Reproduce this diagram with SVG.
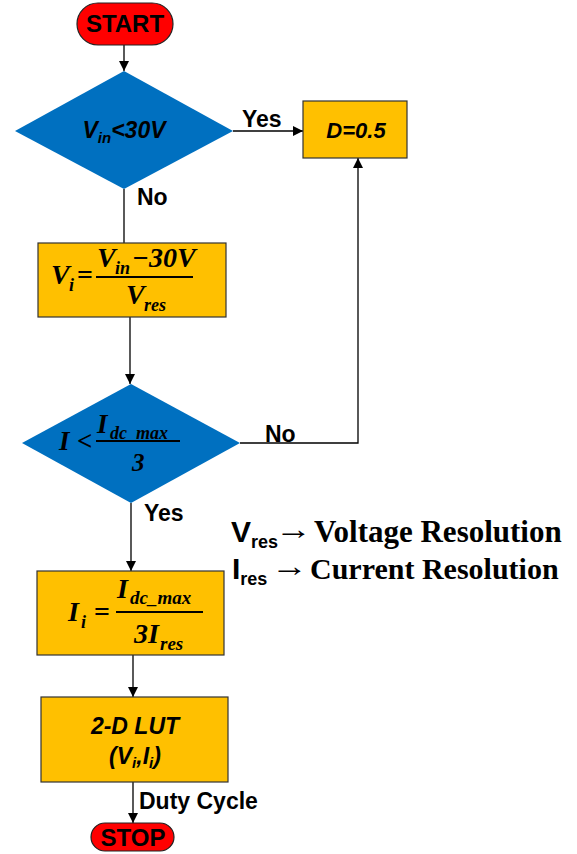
<svg xmlns="http://www.w3.org/2000/svg" width="577" height="854" viewBox="0 0 577 854">
<defs>
<marker id="ah" viewBox="0 0 10 10" refX="10" refY="5" markerWidth="10" markerHeight="10" markerUnits="userSpaceOnUse" orient="auto">
<path d="M0,0 L10,5 L0,10 z" fill="#000"/>
</marker>
<style>
.term{fill:#FF0000;stroke:#222;stroke-width:1.2}
.dec{fill:#0070C0;stroke:none}
.proc{fill:#FFC000;stroke:#333;stroke-width:1.2}
.conn{fill:none;stroke:#000;stroke-width:1.3}
.lbl{font-family:"Liberation Sans",Arial,sans-serif;font-weight:bold;font-size:23px;fill:#000}
.sans{font-family:"Liberation Sans",Arial,sans-serif;font-weight:bold;fill:#000}
.sansi{font-family:"Liberation Sans",Arial,sans-serif;font-weight:bold;font-style:italic;fill:#000}
.math{font-family:"Liberation Serif","Times New Roman",serif;font-weight:bold;font-style:italic;fill:#000}
.serif{font-family:"Liberation Serif","Times New Roman",serif;font-weight:bold;fill:#000}
.arrow{font-family:"Liberation Serif","Times New Roman",serif;fill:#000}
.bar{stroke:#000;stroke-width:2}
</style>
</defs>
<rect width="577" height="854" fill="#fff"/>

<g id="connectors">
<line class="conn" x1="124" y1="45" x2="124" y2="71" marker-end="url(#ah)"/>
<line class="conn" x1="233" y1="131" x2="303" y2="131" marker-end="url(#ah)"/>
<line class="conn" x1="124" y1="189" x2="124" y2="243"/>
<line class="conn" x1="130" y1="317" x2="130" y2="384" marker-end="url(#ah)"/>
<polyline class="conn" points="240,443 358,443 358,158" marker-end="url(#ah)"/>
<line class="conn" x1="131" y1="503" x2="131" y2="571" marker-end="url(#ah)"/>
<line class="conn" x1="133" y1="655" x2="133" y2="697" marker-end="url(#ah)"/>
<line class="conn" x1="133" y1="782" x2="133" y2="823" marker-end="url(#ah)"/>
<text class="lbl" x="242" y="127">Yes</text>
<text class="lbl" x="137" y="205">No</text>
<text class="lbl" x="265" y="442">No</text>
<text class="lbl" x="144" y="521">Yes</text>
<text class="lbl" x="139" y="809">Duty Cycle</text>
</g>

<g id="start">
<rect class="term" x="77" y="3" width="96" height="42" rx="21"/>
<text class="sans" x="125" y="32" font-size="24" text-anchor="middle">START</text>
</g>

<g id="dec1">
<polygon class="dec" points="124,71 233,131 124,189 15,131"/>
<text class="sansi" x="124" y="138" font-size="23" text-anchor="middle">V<tspan font-size="15" dy="5">in</tspan><tspan dy="-5">&lt;30V</tspan></text>
</g>

<g id="d05">
<rect class="proc" x="303" y="101" width="104" height="57"/>
<text class="sansi" x="356" y="138" font-size="22" text-anchor="middle">D=0.5</text>
</g>

<g id="vi">
<rect class="proc" x="38" y="243" width="188" height="74"/>
<text class="math" x="51" y="284" font-size="28">V</text>
<text class="math" x="69" y="291" font-size="18">i</text>
<text class="serif" x="77" y="284" font-size="28">=</text>
<text class="math" x="97" y="267" font-size="28">V</text>
<text class="math" x="115" y="274" font-size="18">in</text>
<text class="math" x="132" y="267" font-size="28">−30V</text>
<line class="bar" x1="96" y1="277" x2="193" y2="277"/>
<text class="math" x="126" y="304" font-size="28">V</text>
<text class="math" x="144" y="311" font-size="18">res</text>
</g>

<g id="dec2">
<polygon class="dec" points="131,384 240,443 131,503 22,443"/>
<text class="math" x="59" y="450" font-size="27">I</text>
<text class="serif" x="77" y="450" font-size="27">&lt;</text>
<text class="math" x="97" y="433" font-size="27">I</text>
<text class="math" x="110" y="439" font-size="18">dc_max</text>
<line class="bar" x1="96" y1="441" x2="180" y2="441"/>
<text class="math" x="132" y="471" font-size="25">3</text>
</g>

<g id="ii">
<rect class="proc" x="37" y="571" width="187" height="84"/>
<text class="math" x="68" y="621" font-size="28">I</text>
<text class="math" x="81" y="628" font-size="18">i</text>
<text class="serif" x="94" y="621" font-size="28">=</text>
<text class="math" x="117" y="598" font-size="28">I</text>
<text class="math" x="130" y="604" font-size="19">dc_max</text>
<line class="bar" x1="116" y1="612" x2="203" y2="612"/>
<text class="math" x="134" y="643" font-size="28">3I</text>
<text class="math" x="160" y="650" font-size="19">res</text>
</g>

<g id="lut">
<rect class="proc" x="41" y="697" width="187" height="85"/>
<text class="sansi" x="135" y="734" font-size="23" text-anchor="middle">2-D LUT</text>
<text class="sansi" x="135" y="764" font-size="23" text-anchor="middle">(V<tspan font-size="15" dy="4">i</tspan><tspan dy="-4">,I</tspan><tspan font-size="15" dy="4">i</tspan><tspan dy="-4">)</tspan></text>
</g>

<g id="stop">
<rect class="term" x="91" y="823" width="83" height="28" rx="14"/>
<text class="sans" x="133" y="846" font-size="24" text-anchor="middle">STOP</text>
</g>

<g id="legend">
<text class="sans" x="231" y="542" font-size="30">V<tspan font-size="18" dy="6">res</tspan></text>
<text class="arrow" x="275" y="539" font-size="30" textLength="37" lengthAdjust="spacingAndGlyphs">→</text>
<text class="serif" x="314" y="542" font-size="31">Voltage Resolution</text>
<text class="sans" x="232" y="579" font-size="30">I<tspan font-size="18" dy="6">res</tspan></text>
<text class="arrow" x="271" y="576" font-size="30" textLength="37" lengthAdjust="spacingAndGlyphs">→</text>
<text class="serif" x="310" y="579" font-size="30">Current Resolution</text>
</g>
</svg>
